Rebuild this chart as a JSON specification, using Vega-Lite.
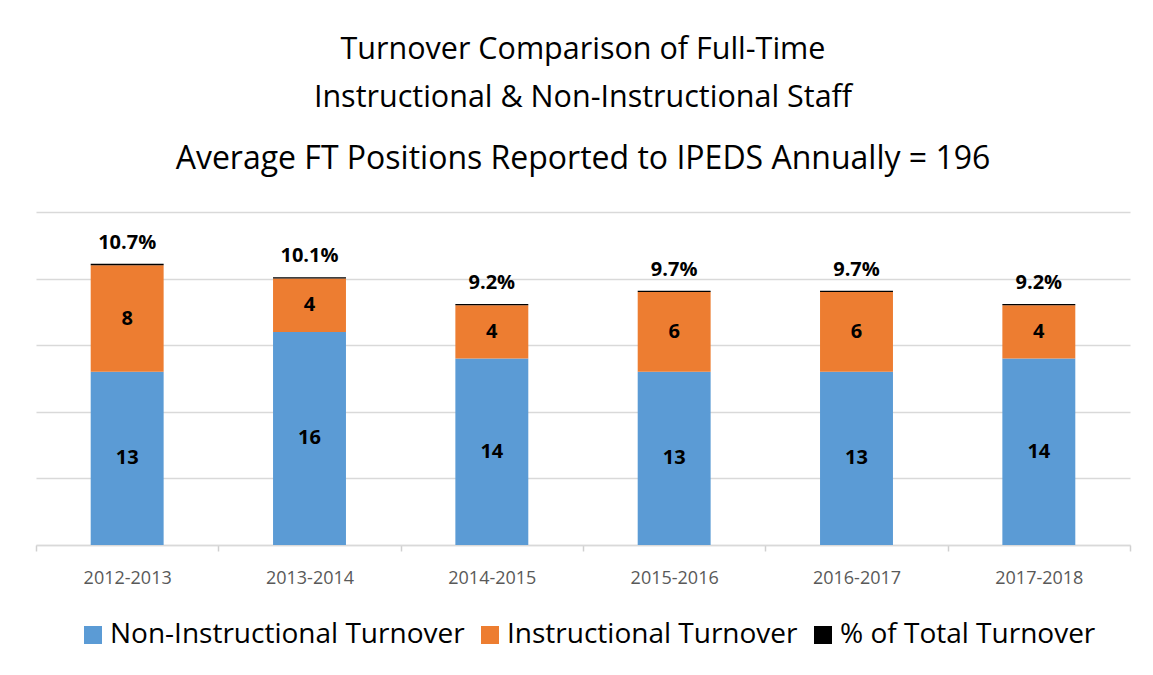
{
  "$schema": "https://vega.github.io/schema/vega-lite/v6.json",
  "width": 1094,
  "height": 333,
  "padding": {"left": 35, "top": 34, "right": 24, "bottom": 10},
  "background": "white",
  "config": {
    "font": "Open Sans",
    "view": {"stroke": null}
  },
  "title": {
    "text": ["Turnover Comparison of Full-Time", "Instructional & Non-Instructional Staff"],
    "subtitle": "Average FT Positions Reported to IPEDS Annually = 196",
    "anchor": "middle",
    "font": "Open Sans",
    "fontSize": 30.5,
    "fontWeight": "normal",
    "color": "#000000",
    "lineHeight": 48,
    "subtitleFont": "Open Sans",
    "subtitleFontSize": 32,
    "subtitleColor": "#000000",
    "subtitlePadding": 31,
    "offset": 37
  },
  "data": {
    "values": [
      {"year": "2012-2013", "series": "Non-Instructional Turnover", "value": 13},
      {"year": "2012-2013", "series": "Instructional Turnover", "value": 8},
      {"year": "2012-2013", "series": "% of Total Turnover", "value": 0.107},
      {"year": "2013-2014", "series": "Non-Instructional Turnover", "value": 16},
      {"year": "2013-2014", "series": "Instructional Turnover", "value": 4},
      {"year": "2013-2014", "series": "% of Total Turnover", "value": 0.101},
      {"year": "2014-2015", "series": "Non-Instructional Turnover", "value": 14},
      {"year": "2014-2015", "series": "Instructional Turnover", "value": 4},
      {"year": "2014-2015", "series": "% of Total Turnover", "value": 0.092},
      {"year": "2015-2016", "series": "Non-Instructional Turnover", "value": 13},
      {"year": "2015-2016", "series": "Instructional Turnover", "value": 6},
      {"year": "2015-2016", "series": "% of Total Turnover", "value": 0.097},
      {"year": "2016-2017", "series": "Non-Instructional Turnover", "value": 13},
      {"year": "2016-2017", "series": "Instructional Turnover", "value": 6},
      {"year": "2016-2017", "series": "% of Total Turnover", "value": 0.097},
      {"year": "2017-2018", "series": "Non-Instructional Turnover", "value": 14},
      {"year": "2017-2018", "series": "Instructional Turnover", "value": 4},
      {"year": "2017-2018", "series": "% of Total Turnover", "value": 0.092}
    ]
  },
  "transform": [
    {"stack": "value", "groupby": ["year"], "sort": [{"field": "series", "order": "descending"}], "as": ["v0", "v1"]}
  ],
  "encoding": {
    "x": {
      "field": "year",
      "type": "nominal",
      "sort": null,
      "scale": {"paddingInner": 0, "paddingOuter": 0},
      "axis": {
        "title": null,
        "labelAngle": 0,
        "labelFontSize": 18,
        "labelColor": "#595959",
        "labelPadding": 18,
        "domainColor": "#D9D9D9",
        "domainWidth": 1.5,
        "tickColor": "#D0D0D0",
        "tickWidth": 1.5,
        "tickSize": 6,
        "tickBand": "extent",
        "grid": false
      }
    }
  },
  "layer": [
    {
      "mark": {"type": "bar", "width": {"band": 0.4}},
      "encoding": {
        "y": {
          "field": "v0",
          "type": "quantitative",
          "scale": {"domain": [0, 25], "nice": false},
          "axis": {
            "title": null,
            "labels": false,
            "ticks": false,
            "domain": false,
            "grid": true,
            "gridColor": "#D9D9D9",
            "gridWidth": 1.3,
            "values": [0, 5, 10, 15, 20, 25]
          }
        },
        "y2": {"field": "v1"},
        "color": {
          "field": "series",
          "type": "nominal",
          "scale": {
            "domain": ["Non-Instructional Turnover", "Instructional Turnover", "% of Total Turnover"],
            "range": ["#5B9BD5", "#ED7D31", "#000000"]
          },
          "legend": {
            "title": null,
            "orient": "none",
            "direction": "horizontal",
            "legendX": 43,
            "legendY": 409,
            "symbolType": "square",
            "symbolSize": 324,
            "symbolStrokeWidth": 0,
            "symbolOffset": 0,
            "labelFontSize": 28,
            "labelColor": "#000000",
            "labelOffset": 3,
            "labelLimit": 600,
            "columnPadding": 11
          }
        }
      }
    },
    {
      "transform": [
        {"filter": "datum.series !== '% of Total Turnover'"},
        {"calculate": "(datum.v0 + datum.v1) / 2", "as": "mid"}
      ],
      "mark": {"type": "text", "fontWeight": "bold", "fontSize": 20, "color": "#000000", "baseline": "middle"},
      "encoding": {
        "y": {"field": "mid", "type": "quantitative"},
        "text": {"field": "value", "type": "quantitative"}
      }
    },
    {
      "transform": [
        {"filter": "datum.series === '% of Total Turnover'"}
      ],
      "mark": {"type": "text", "fontWeight": "bold", "fontSize": 20, "color": "#000000", "baseline": "middle", "dy": -21},
      "encoding": {
        "y": {"field": "v1", "type": "quantitative"},
        "text": {"field": "value", "type": "quantitative", "format": ".1%"}
      }
    }
  ]
}
